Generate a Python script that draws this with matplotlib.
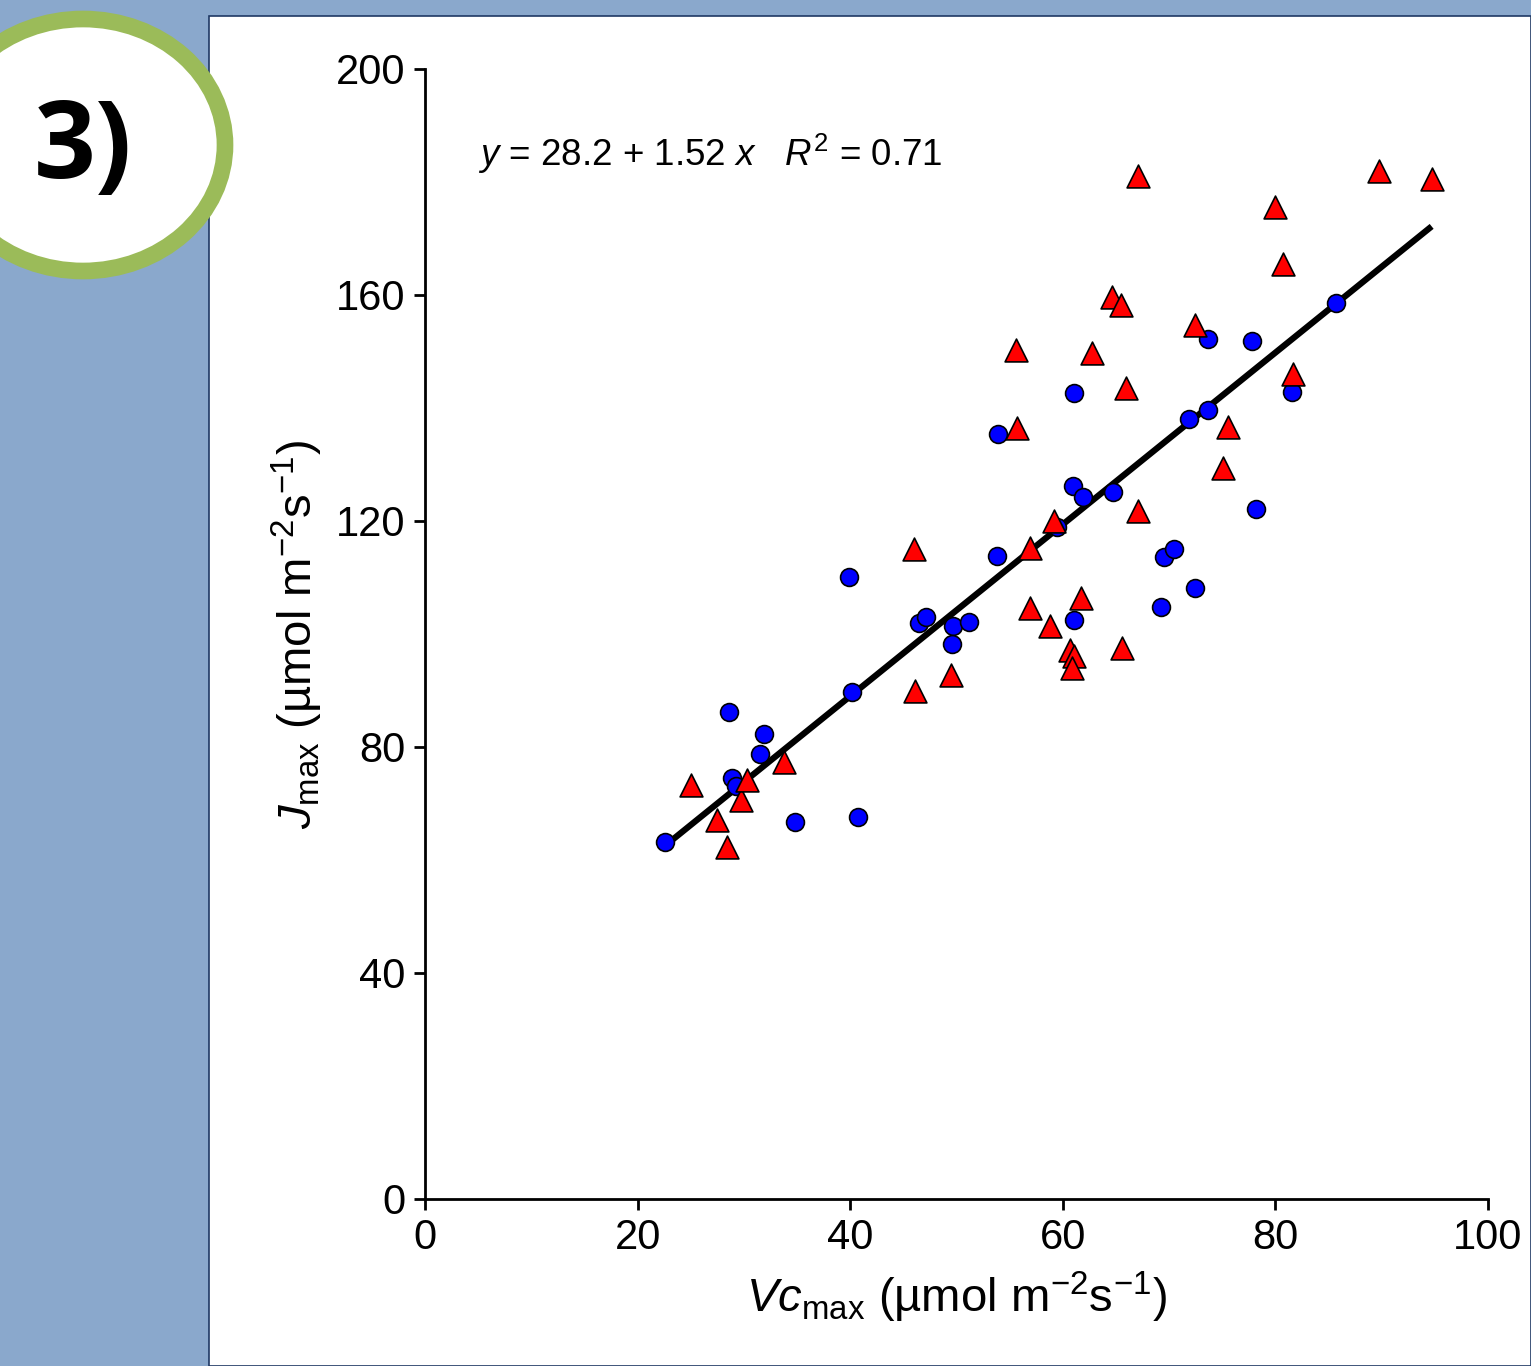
import numpy as np
import matplotlib
matplotlib.use('Agg')
import matplotlib.pyplot as plt
from matplotlib.patches import Rectangle, Ellipse

plt.rcParams['font.family'] = ['Liberation Sans', 'DejaVu Sans']
plt.rcParams['mathtext.fontset'] = 'custom'
plt.rcParams['mathtext.rm'] = 'Liberation Sans'
plt.rcParams['mathtext.it'] = 'Liberation Sans:italic'

# blue circles
vc_blue = [22.6, 28.6, 28.9, 29.3, 31.9, 31.5, 34.8, 40.7, 39.9, 40.2, 46.5, 47.1,
           49.7, 49.6, 51.2, 53.9, 53.8, 61.1, 61.0, 61.9, 64.7, 59.5, 61.1, 69.5,
           70.5, 69.2, 72.4, 71.9, 73.7, 73.7, 77.8, 78.2, 81.6, 85.7]
j_blue = [63.2, 86.2, 74.5, 73.1, 82.3, 78.8, 66.7, 67.6, 110.1, 89.7, 101.9, 103.0,
          101.4, 98.2, 102.1, 135.4, 113.8, 142.7, 126.2, 124.2, 125.1, 118.9, 102.5, 113.6,
          115.0, 104.8, 108.1, 138.1, 139.6, 152.2, 151.9, 122.1, 142.8, 158.6]

# red triangles
vc_red = [25.0, 27.5, 28.4, 29.7, 30.3, 33.8, 46.0, 46.1, 49.5, 55.6, 55.7, 56.9,
          56.9, 58.8, 59.2, 61.7, 60.7, 61.1, 60.9, 62.7, 64.6, 65.5, 65.9, 65.6,
          67.1, 67.1, 72.4, 75.5, 75.1, 80.0, 80.7, 81.7, 89.7, 94.7]
j_red = [73.3, 67.1, 62.3, 70.6, 74.2, 77.3, 115.0, 89.9, 92.7, 150.3, 136.5, 115.2,
         104.6, 101.4, 120.0, 106.4, 97.2, 96.1, 94.0, 149.7, 159.6, 158.2, 143.5, 97.5,
         121.8, 181.1, 154.7, 136.6, 129.4, 175.6, 165.5, 146.0, 181.9, 180.5]

intercept, slope = 28.2, 1.52
fit_x = [22.6, 94.7]

fig = plt.figure(figsize=(15.31, 13.66), dpi=100)
fig.patch.set_facecolor('#8aa8cc')
W, H = 1531, 1366
fig.patches.append(Rectangle((209 / W, 0), 1 - 209 / W, 1 - 16 / H, transform=fig.transFigure,
                             facecolor='white', edgecolor='#1f3864', linewidth=1.2, zorder=-2))
fig.patches.append(Ellipse((83 / W, 1 - 145 / H), 284 / W, 252 / H, transform=fig.transFigure,
                           facecolor='white', edgecolor='#9bbb59', linewidth=12, zorder=-1))
fig.text(83 / W, 1 - 150 / H, '3)', fontsize=78, fontweight='bold', family='Open Sans',
         ha='center', va='center', zorder=2)

ax = fig.add_axes([425 / W, 1 - 1199 / H, (1488 - 425) / W, (1199 - 69) / H])
ax.set_zorder(5)
ax.set_facecolor('none')

ax.plot(fit_x, [intercept + slope * v for v in fit_x], color='black', lw=4.5,
        solid_capstyle='butt', zorder=2)
ax.scatter(vc_blue, j_blue, s=165, marker='o', color='#0000ff', edgecolor='black',
           linewidth=1.2, zorder=3)
ax.scatter(vc_red, j_red, s=270, marker='^', color='#ff0000', edgecolor='black',
           linewidth=1.2, zorder=4)

ax.set_xlim(0, 100)
ax.set_ylim(0, 200)
ax.set_xticks(np.arange(0, 101, 20))
ax.set_yticks(np.arange(0, 201, 40))
ax.spines['top'].set_visible(False)
ax.spines['right'].set_visible(False)
ax.spines['left'].set_linewidth(2)
ax.spines['bottom'].set_linewidth(2)
ax.tick_params(direction='out', length=8, width=2, labelsize=30, pad=6)

ax.set_xlabel(r'$\mathit{Vc}_{\mathrm{max}}$ (µmol m$^{-2}$s$^{-1}$)', fontsize=34, labelpad=8)
ax.set_ylabel(r'$\mathit{J}_{\mathrm{max}}$ (µmol m$^{-2}$s$^{-1}$)', fontsize=34, labelpad=8)

ax.text(0.05, 0.925, r'$\mathit{y}$ = 28.2 + 1.52 $\mathit{x}$   $\mathit{R}^{2}$ = 0.71',
        transform=ax.transAxes, fontsize=26.5, ha='left', va='center')

fig.savefig('out.png', dpi=100)
